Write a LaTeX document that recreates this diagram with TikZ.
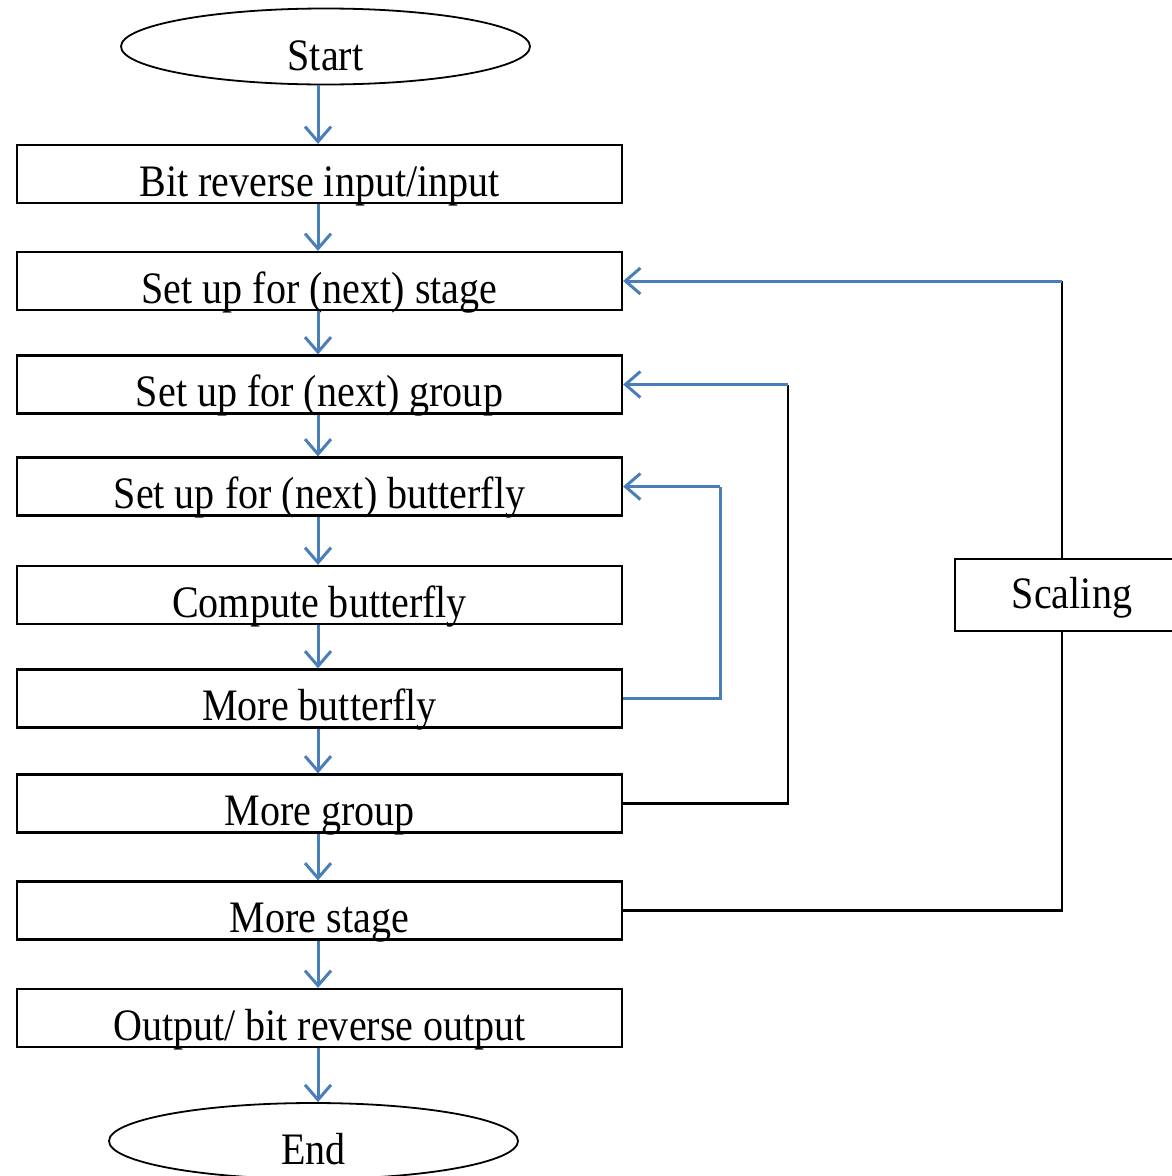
\documentclass[tikz,border=0pt]{standalone}
\usepackage{fontspec}
\setmainfont{Liberation Serif}[FakeStretch=0.89]
\usetikzlibrary{arrows.meta,shapes.geometric}
\definecolor{flowblue}{HTML}{4A7EBB}
\begin{document}
\begin{tikzpicture}[x=1pt,y=-1pt,
  every node/.style={font=\fontsize{45}{50}\selectfont, inner sep=0pt},
  stepbox/.style={draw, line width=2.2pt, minimum width=605pt, minimum height=58pt,
    text height=44pt, text depth=0pt},
  term/.style={draw, line width=1.8pt, ellipse, minimum width=409pt, minimum height=76pt,
    text height=47pt, text depth=0pt},
  scalebox/.style={draw, line width=2.2pt, minimum width=234pt, minimum height=72pt,
    text height=26pt, text depth=0pt},
  flow/.style={draw=flowblue, line width=3pt,
    -{Straight Barb[length=15pt,width=26pt,line width=3pt]}},
  loopline/.style={draw=flowblue, line width=3pt},
  wire/.style={draw=black, line width=2.2pt},
]
\useasboundingbox (0,0) rectangle (1172,1176);

% terminals
\node[term] (start) at (325.5,46.5) {Start};
\node[term] (end) at (313.5,1141) {End};

% processing steps
\node[stepbox] (b1) at (319.5,174)   {Bit reverse input/input};
\node[stepbox] (b2) at (319.5,281)   {Set up for (next) stage};
\node[stepbox] (b3) at (319.5,384.5) {Set up for (next) group};
\node[stepbox] (b4) at (319.5,486.5) {Set up for (next) butterfly};
\node[stepbox] (b5) at (319.5,595)   {Compute butterfly};
\node[stepbox] (b6) at (319.5,698.5) {More butterfly};
\node[stepbox] (b7) at (319.5,803.5) {More group};
\node[stepbox] (b8) at (319.5,910.5) {More stage};
\node[stepbox] (b9) at (319.5,1018)  {Output/ bit reverse output};

\node[scalebox] (sc) at (1072,595) {Scaling};

% main flow column
\coordinate (mx) at (318,0);
\draw[flow] (mx |- start.south) -- (mx |- b1.north);
\draw[flow] (mx |- b1.south) -- (mx |- b2.north);
\draw[flow] (mx |- b2.south) -- (mx |- b3.north);
\draw[flow] (mx |- b3.south) -- (mx |- b4.north);
\draw[flow] (mx |- b4.south) -- (mx |- b5.north);
\draw[flow] (mx |- b5.south) -- (mx |- b6.north);
\draw[flow] (mx |- b6.south) -- (mx |- b7.north);
\draw[flow] (mx |- b7.south) -- (mx |- b8.north);
\draw[flow] (mx |- b8.south) -- (mx |- b9.north);
\draw[flow] (mx |- b9.south) -- (mx |- end.north);

% loop columns
\coordinate (lx1) at (720,0);
\coordinate (lx2) at (788,0);
\coordinate (lx3) at (1062,0);

% butterfly loop
\draw[loopline] (b6.east) -- (lx1 |- b6.east) -- (lx1 |- b4.east);
\draw[flow] (lx1 |- b4.east) -- (b4.east);

% group loop
\draw[wire] (b7.east) -- (lx2 |- b7.east) -- (lx2 |- b3.east);
\draw[flow] (lx2 |- b3.east) -- (b3.east);

% stage loop through scaling
\draw[wire] (b8.east) -- (lx3 |- b8.east) -- (lx3 |- sc.south);
\draw[wire] (lx3 |- sc.north) -- (lx3 |- b2.east);
\draw[flow] (lx3 |- b2.east) -- (b2.east);
\end{tikzpicture}
\end{document}
